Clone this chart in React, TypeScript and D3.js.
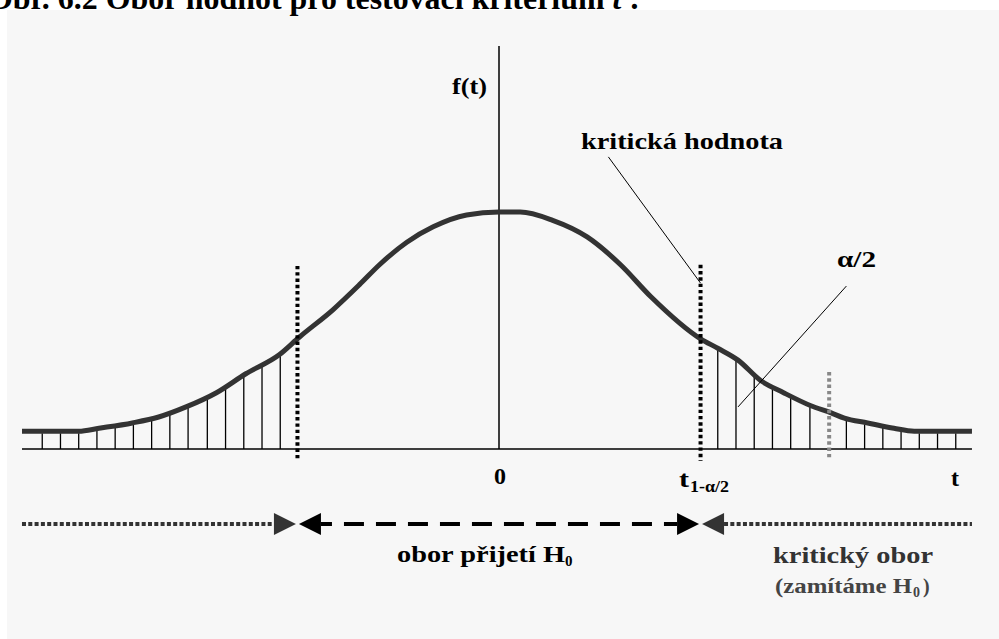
import React from "react";
import * as d3 from "d3";

// Curve of the density f(t)
const tValues = [-4.71, -4.15, -3.95, -3.62, -3.36, -3.09, -2.79, -2.5, -2.17, -1.97, -1.64, -1.38, -1.18, -0.91, -0.65, -0.32, 0, 0.21, 0.53, 0.87, 1.2, 1.5, 1.99, 2.16, 2.36, 2.58, 2.81, 3.08, 3.28, 3.41, 3.64, 3.9, 4.1, 4.67];
const fValues = [0.03, 0.03, 0.035, 0.044, 0.054, 0.071, 0.095, 0.127, 0.159, 0.189, 0.235, 0.277, 0.311, 0.349, 0.375, 0.395, 0.4, 0.4, 0.386, 0.358, 0.311, 0.257, 0.186, 0.17, 0.15, 0.116, 0.095, 0.073, 0.061, 0.052, 0.044, 0.035, 0.03, 0.03];

// hatch positions in the tails
const hatchLeft = [-4.51, -4.33, -4.15, -3.97, -3.79, -3.61, -3.43, -3.25, -3.07, -2.88, -2.7, -2.52, -2.34, -2.16];
const hatchRight = [2.16, 2.34, 2.52, 2.7, 2.88, 3.07, 3.43, 3.61, 3.79, 3.97, 4.15, 4.33, 4.51];

const tCrit = 1.99;
const tGray = 3.26;

const titleText = "Obr. 6.2 Obor hodnot pro testovací kritérium ";
const yLabel = "f(t)";
const critLabel = "kritická hodnota";
const alphaLabel = "α/2";
const zeroLabel = "0";
const tLabel = "t";
const critSub = "1-α/2";
const acceptLabel = "obor přijetí H";
const rejectLabel = "kritický obor";
const rejectSub = "(zamítáme H";

const W = 999;
const H = 639;

export default function App() {
  const x = d3.scaleLinear().domain([-4.7, 4.7]).range([23, 975]);
  const y = d3.scaleLinear().domain([0, 0.4]).range([449, 212]);

  const pts: [number, number][] = tValues.map((t, i) => [t, fValues[i]]);
  const line = d3
    .line<[number, number]>()
    .x((d) => x(d[0]))
    .y((d) => y(d[1]))
    .curve(d3.curveMonotoneX);

  const fAt = (t: number) => {
    const i = d3.bisector((d: number) => d).right(tValues, t);
    const i0 = Math.max(0, i - 1);
    const i1 = Math.min(tValues.length - 1, i);
    if (i0 === i1) return fValues[i0];
    const k = (t - tValues[i0]) / (tValues[i1] - tValues[i0]);
    return fValues[i0] + k * (fValues[i1] - fValues[i0]);
  };

  const font = "'Liberation Serif', 'Times New Roman', serif";
  const rowY = 524;
  const aw = 22;
  const ah = 11;
  const xl = x(-tCrit);
  const xr = x(tCrit);
  const xMin = x(tValues[0]);
  const xMax = x(tValues[tValues.length - 1]);

  const triR = (tip: number) => `M${tip},${rowY} L${tip - aw},${rowY - ah} L${tip - aw},${rowY + ah} Z`;
  const triL = (tip: number) => `M${tip},${rowY} L${tip + aw},${rowY - ah} L${tip + aw},${rowY + ah} Z`;

  return (
    <div style={{ position: "absolute", left: 0, top: 0, width: W, height: H }}>
      <svg width={W} height={H} style={{ display: "block" }}>
        <rect x={0} y={0} width={W} height={H} fill="#ffffff" />
        <rect x={7} y={10} width={W - 7} height={H - 10} fill="#f7f7f7" />

        {/* title, clipped at the top */}
        <text
          x={-12}
          y={9}
          fontFamily={font}
          fontWeight="bold"
          fontSize={32}
          fill="#000"
          textLength={652}
          lengthAdjust="spacingAndGlyphs"
        >
          {titleText}
          <tspan fontStyle="italic">t</tspan> :
        </text>

        {/* hatches */}
        {[...hatchLeft, ...hatchRight].map((t, i) => (
          <line
            key={i}
            x1={x(t)}
            x2={x(t)}
            y1={y(0)}
            y2={y(fAt(t)) + 2}
            stroke="#000"
            strokeWidth={1.3}
          />
        ))}

        {/* axes */}
        <line x1={xMin} x2={xMax} y1={y(0)} y2={y(0)} stroke="#000" strokeWidth={1.6} />
        <line x1={x(0)} x2={x(0)} y1={46} y2={y(0)} stroke="#000" strokeWidth={1.5} />

        {/* curve */}
        <path d={line(pts) || ""} fill="none" stroke="#333" strokeWidth={5} />

        {/* critical lines */}
        <line x1={xl} x2={xl} y1={y(0.309)} y2={y(-0.02)} stroke="#000" strokeWidth={4} strokeDasharray="3.4 2.9" />
        <line x1={xr} x2={xr} y1={y(0.311)} y2={y(-0.02)} stroke="#000" strokeWidth={4} strokeDasharray="3.4 2.9" />
        <line x1={x(tGray)} x2={x(tGray)} y1={y(0.13)} y2={y(-0.014)} stroke="#888" strokeWidth={4} strokeDasharray="3.4 2.9" />

        {/* leaders */}
        <line x1={x(1.08)} y1={y(0.493)} x2={x(1.99)} y2={y(0.28)} stroke="#000" strokeWidth={1} />
        <line x1={x(3.43)} y1={y(0.275)} x2={x(2.36)} y2={y(0.071)} stroke="#000" strokeWidth={1} />

        {/* labels */}
        <text x={452} y={94} fontFamily={font} fontWeight="bold" fontSize={24} textLength={35} lengthAdjust="spacingAndGlyphs">{yLabel}</text>
        <text x={581} y={149} fontFamily={font} fontWeight="bold" fontSize={24} textLength={202} lengthAdjust="spacingAndGlyphs">{critLabel}</text>
        <text x={837} y={267} fontFamily={font} fontWeight="bold" fontSize={24} textLength={39} lengthAdjust="spacingAndGlyphs">{alphaLabel}</text>
        <text x={x(0) + 1} y={484} textAnchor="middle" fontFamily={font} fontWeight="bold" fontSize={24}>{zeroLabel}</text>
        <text x={955} y={486} textAnchor="middle" fontFamily={font} fontWeight="bold" fontSize={24}>{tLabel}</text>
        <text x={679} y={487} fontFamily={font} fontWeight="bold" fontSize={24} textLength={10} lengthAdjust="spacingAndGlyphs">{tLabel}</text>
        <text x={690} y={492} fontFamily={font} fontWeight="bold" fontSize={16} textLength={39} lengthAdjust="spacingAndGlyphs">{critSub}</text>

        {/* arrow row */}
        <line x1={xMin} x2={xl - 1.5 - aw} y1={rowY} y2={rowY} stroke="#333" strokeWidth={4} strokeDasharray="4 2.3" />
        <path d={triR(xl - 1.5)} fill="#333" />
        <path d={triL(xl + 1.5)} fill="#000" />
        <line x1={xl + 1.5 + aw} x2={xr - 1.5 - aw} y1={rowY} y2={rowY} stroke="#000" strokeWidth={4} strokeDasharray="20 12" strokeDashoffset={9} />
        <line x1={xr - 1.5 - aw - 8} x2={xr - 1.5 - aw} y1={rowY} y2={rowY} stroke="#000" strokeWidth={4} />
        <path d={triR(xr - 1.5)} fill="#000" />
        <path d={triL(xr + 1.5)} fill="#333" />
        <line x1={xr + 1.5 + aw} x2={xMax} y1={rowY} y2={rowY} stroke="#333" strokeWidth={4} strokeDasharray="4 2.3" />

        <text x={397} y={562} fontFamily={font} fontWeight="bold" fontSize={24} fill="#000" textLength={168} lengthAdjust="spacingAndGlyphs">{acceptLabel}</text>
        <text x={565} y={566} fontFamily={font} fontWeight="bold" fontSize={15} fill="#000">0</text>
        <text x={773} y={563} fontFamily={font} fontWeight="bold" fontSize={24} fill="#333" textLength={160} lengthAdjust="spacingAndGlyphs">{rejectLabel}</text>
        <text x={775} y={593} fontFamily={font} fontWeight="bold" fontSize={20} fill="#444" textLength={137} lengthAdjust="spacingAndGlyphs">{rejectSub}</text>
        <text x={913} y={597} fontFamily={font} fontWeight="bold" fontSize={14} fill="#444">0</text>
        <text x={923} y={593} fontFamily={font} fontWeight="bold" fontSize={20} fill="#444">)</text>
      </svg>
    </div>
  );
}
